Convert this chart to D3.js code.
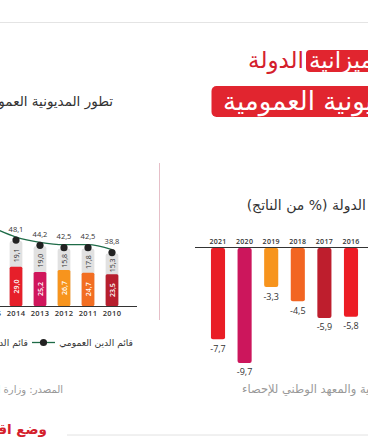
<!DOCTYPE html>
<html>
<head>
<meta charset="utf-8">
<script src="https://cdn.jsdelivr.net/npm/d3@7"></script>
<style>
  body { margin: 0; background: #fff; }
  svg { display: block; }
  .ar { font-family: "DejaVu Sans", sans-serif; direction: rtl; }
  .num { font-family: "Open Sans", "DejaVu Sans", sans-serif; }
</style>
</head>
<body>
<div id="chart"></div>
<script>
// left chart: public debt stock (% of GDP)
var debtYears = [2015, 2014, 2013, 2012, 2011, 2010];
var debtBottom = [35.1, 29.0, 25.2, 26.7, 24.7, 23.5];
var debtTop = [20.3, 19.1, 19.0, 15.8, 17.8, 15.3];
var debtTotal = [55.4, 48.1, 44.2, 42.5, 42.5, 38.8];
var debtColors = ["#e3262d", "#e61f2a", "#d0165c", "#f7941d", "#f26e22", "#b71f2e"];

// right chart: budget deficit (% of GDP)
var defYears = [2021, 2020, 2019, 2018, 2017, 2016, 2015];
var defValues = [-7.7, -9.7, -3.3, -4.5, -5.9, -5.8, -4.8];
var defColors = ["#e91d25", "#cc165c", "#f7941d", "#f26522", "#be1e2d", "#ec1c24", "#e3262d"];

var width = 368, height = 445;

function fmt(v) {
  return (v < 0 ? "-" : "") + Math.abs(v).toFixed(1).replace(".", ",");
}

var svg = d3.select("#chart").append("svg")
  .attr("width", width)
  .attr("height", height);

// header rule
svg.append("line")
  .attr("x1", 0).attr("x2", width)
  .attr("y1", 22.5).attr("y2", 22.5)
  .attr("stroke", "#e4e4e4").attr("stroke-width", 1.2);

// title blocks
svg.append("rect")
  .attr("x", 306).attr("y", 50).attr("width", 80).attr("height", 22)
  .attr("rx", 4).attr("fill", "#e1252f");
svg.append("text").attr("class", "ar")
  .attr("x", 309).attr("y", 68)
  .attr("text-anchor", "end")
  .attr("font-size", 23).attr("fill", "#fff")
  .text("ميزانية");
svg.append("text").attr("class", "ar")
  .attr("x", 304).attr("y", 68)
  .attr("text-anchor", "start")
  .attr("font-size", 23).attr("fill", "#d4202c")
  .text("الدولة");

svg.append("rect")
  .attr("x", 211.5).attr("y", 86).attr("width", 180).attr("height", 31)
  .attr("rx", 5).attr("fill", "#e1252f");
svg.append("text").attr("class", "ar")
  .attr("x", 223).attr("y", 110)
  .attr("text-anchor", "end")
  .attr("font-size", 26).attr("fill", "#fff")
  .text("المديونية العمومية");

// subtitles
svg.append("text").attr("class", "ar")
  .attr("x", 113).attr("y", 106)
  .attr("text-anchor", "start")
  .attr("font-size", 13.5).attr("fill", "#333")
  .text("تطور المديونية العمومية (% من الناتج)");

svg.append("text").attr("class", "ar")
  .attr("x", 366).attr("y", 209.5)
  .attr("text-anchor", "start")
  .attr("font-size", 14).attr("fill", "#333")
  .text("الدولة (% من الناتج)");

// divider
svg.append("line")
  .attr("x1", 159.5).attr("x2", 159.5)
  .attr("y1", 163).attr("y2", 320)
  .attr("stroke", "#e6bfc8").attr("stroke-width", 1);

// ---------------- left chart ----------------
var xL = d3.scaleBand()
  .domain(debtYears)
  .range([-20, 124])
  .paddingInner(0.47)
  .paddingOuter(0.235);

var yL = d3.scaleLinear()
  .domain([0, 60])
  .range([306, 306 - 60 * 1.35]);

var debt = debtYears.map(function(y, i) {
  return { year: y, bottom: debtBottom[i], top: debtTop[i], total: debtTotal[i], color: debtColors[i] };
});

var gL = svg.append("g");

gL.selectAll(".topBar").data(debt).enter()
  .append("rect")
  .attr("x", d => xL(d.year))
  .attr("y", d => yL(d.total))
  .attr("width", xL.bandwidth())
  .attr("height", d => yL(0) - yL(d.total))
  .attr("rx", 2)
  .attr("fill", "#e1e1e1");

gL.selectAll(".botBar").data(debt).enter()
  .append("rect")
  .attr("x", d => xL(d.year))
  .attr("y", d => yL(d.bottom))
  .attr("width", xL.bandwidth())
  .attr("height", d => yL(0) - yL(d.bottom))
  .attr("rx", 1.5)
  .attr("fill", d => d.color);

// values inside segments
gL.selectAll(".topVal").data(debt).enter()
  .append("text").attr("class", "num")
  .attr("transform", d => "translate(" + (xL(d.year) + xL.bandwidth() / 2 + 2.5) + "," +
    ((yL(d.total) + yL(d.bottom)) / 2 + 1.5) + ")rotate(-90)")
  .attr("text-anchor", "middle")
  .attr("font-size", 7).attr("fill", "#333")
  .text(d => fmt(d.top));

gL.selectAll(".botVal").data(debt).enter()
  .append("text").attr("class", "num")
  .attr("transform", d => "translate(" + (xL(d.year) + xL.bandwidth() / 2 + 2.5) + "," +
    ((yL(d.bottom) + yL(0)) / 2) + ")rotate(-90)")
  .attr("text-anchor", "middle")
  .attr("font-size", 7).attr("font-weight", 600).attr("fill", "#fff")
  .text(d => fmt(d.bottom));

// total debt line
var line = d3.line()
  .x(d => xL(d.year) + xL.bandwidth() / 2)
  .y(d => yL(d.total) - 4)
  .curve(d3.curveMonotoneX);

gL.append("path")
  .datum(debt)
  .attr("d", line)
  .attr("fill", "none")
  .attr("stroke", "#1e6b47")
  .attr("stroke-width", 1.3);

gL.selectAll(".dot").data(debt).enter()
  .append("circle")
  .attr("cx", d => xL(d.year) + xL.bandwidth() / 2)
  .attr("cy", d => yL(d.total) - 1)
  .attr("r", 3.6)
  .attr("fill", "#222");

gL.selectAll(".totVal").data(debt).enter()
  .append("text").attr("class", "num")
  .attr("x", d => xL(d.year) + xL.bandwidth() / 2)
  .attr("y", d => yL(d.total) - 9.5)
  .attr("text-anchor", "middle")
  .attr("font-size", 7.5).attr("fill", "#333")
  .text(d => fmt(d.total));

var axisL = d3.axisBottom(xL).tickSize(0).tickPadding(5);
gL.append("g")
  .attr("transform", "translate(0,306)")
  .call(axisL)
  .call(g => g.select(".domain").attr("d", "M-5,0.5H137").attr("stroke", "#333"))
  .call(g => g.selectAll("text").attr("class", "num")
    .attr("font-size", 7.5).attr("font-weight", 600)
    .attr("letter-spacing", 0.4).attr("fill", "#333"));

// legend
svg.append("text").attr("class", "ar")
  .attr("x", 133).attr("y", 345.5)
  .attr("text-anchor", "start")
  .attr("font-size", 9.2).attr("fill", "#333")
  .text("قائم الدين العمومي");
svg.append("line")
  .attr("x1", 32).attr("x2", 55).attr("y1", 342.5).attr("y2", 342.5)
  .attr("stroke", "#1e6b47").attr("stroke-width", 1.3);
svg.append("circle")
  .attr("cx", 43.5).attr("cy", 342.5).attr("r", 3.6).attr("fill", "#222");
svg.append("text").attr("class", "ar")
  .attr("x", 28).attr("y", 345.5)
  .attr("text-anchor", "start")
  .attr("font-size", 9.2).attr("fill", "#333")
  .text("قائم الدين الخارجي");

// ---------------- right chart ----------------
var xR = d3.scaleBand()
  .domain(defYears)
  .range([204.7, 204.7 + 7 * 26.6])
  .paddingInner(0.47)
  .paddingOuter(0.235);

var yR = d3.scaleLinear()
  .domain([0, -10])
  .range([248, 248 + 10 * 11.85]);

var def = defYears.map(function(y, i) {
  return { year: y, value: defValues[i], color: defColors[i] };
});

var gR = svg.append("g");

gR.selectAll(".defBar").data(def).enter()
  .append("rect")
  .attr("x", d => xR(d.year))
  .attr("y", yR(0))
  .attr("width", xR.bandwidth())
  .attr("height", d => yR(d.value) - yR(0))
  .attr("rx", 2)
  .attr("fill", d => d.color);

gR.selectAll(".defVal").data(def).enter()
  .append("text").attr("class", "num")
  .attr("x", d => xR(d.year) + xR.bandwidth() / 2)
  .attr("y", d => yR(d.value) + 12.5)
  .attr("text-anchor", "middle")
  .attr("font-size", 9).attr("fill", "#333")
  .text(d => fmt(d.value));

var axisR = d3.axisTop(xR).tickSize(0).tickPadding(3);
gR.append("g")
  .attr("transform", "translate(0,247)")
  .call(axisR)
  .call(g => g.select(".domain").attr("d", "M195,0.5H380").attr("stroke", "#333"))
  .call(g => g.selectAll("text").attr("class", "num")
    .attr("font-size", 7).attr("font-weight", 600)
    .attr("letter-spacing", 0.3).attr("fill", "#333"));

// sources
svg.append("text").attr("class", "ar")
  .attr("x", 63).attr("y", 393)
  .attr("text-anchor", "start")
  .attr("font-size", 10).attr("fill", "#999")
  .text("المصدر: وزارة المالية");
svg.append("text").attr("class", "ar")
  .attr("x", 242).attr("y", 393)
  .attr("text-anchor", "end")
  .attr("font-size", 11.5).attr("fill", "#999")
  .text("المصدر: وزارة المالية والمعهد الوطني للإحصاء");

// next section
svg.append("text").attr("class", "ar")
  .attr("x", 47).attr("y", 434)
  .attr("text-anchor", "start")
  .attr("font-size", 13.5).attr("font-weight", "bold").attr("fill", "#d4202c")
  .text("وضع اقتصادي");
svg.append("line")
  .attr("x1", 67).attr("x2", width).attr("y1", 435).attr("y2", 435)
  .attr("stroke", "#e2e2e2").attr("stroke-width", 1);
</script>
</body>
</html>
